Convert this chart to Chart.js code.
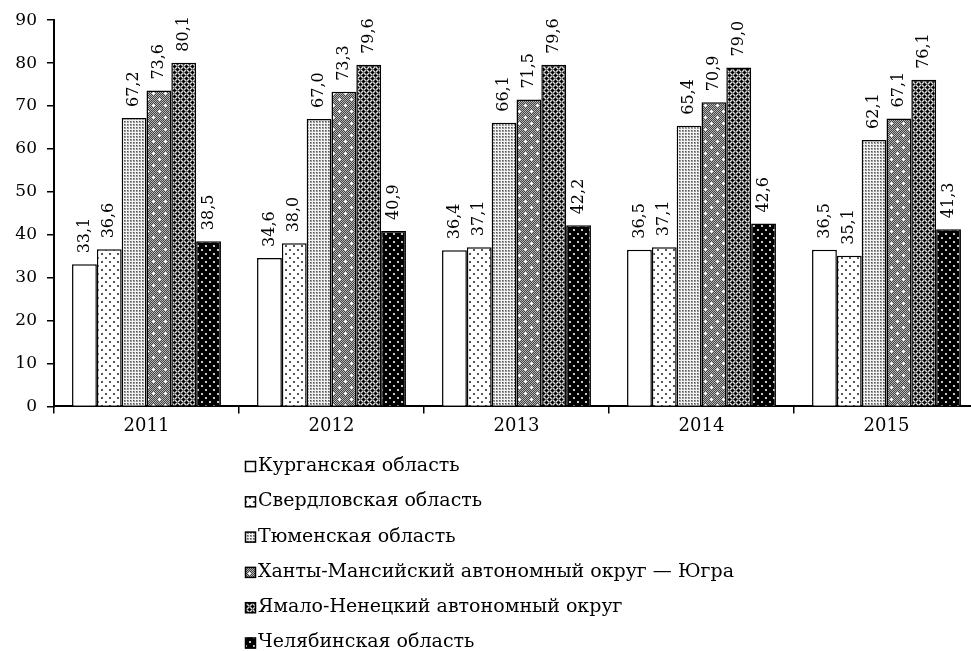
<!DOCTYPE html>
<html>
<head>
<meta charset="utf-8">
<script src="https://cdn.jsdelivr.net/npm/chart.js@4"></script>
<style>
  html, body { margin: 0; padding: 0; background: #fff; overflow: hidden; }
  #wrap { width: 971px; height: 651px; overflow: hidden; }
</style>
</head>
<body>
<div id="wrap"><canvas id="myChart" width="980" height="651"></canvas></div>
<script>
var years = ['2011', '2012', '2013', '2014', '2015'];
var regions = [
    'Курганская область',
    'Свердловская область',
    'Тюменская область',
    'Ханты-Мансийский автономный округ — Югра',
    'Ямало-Ненецкий автономный округ',
    'Челябинская область'
];
var kurgan = [33.1, 34.6, 36.4, 36.5, 36.5];
var sverdlovsk = [36.6, 38.0, 37.1, 37.1, 35.1];
var tyumen = [67.2, 67.0, 66.1, 65.4, 62.1];
var khmao = [73.6, 73.3, 71.5, 70.9, 67.1];
var yanao = [80.1, 79.6, 79.6, 79.0, 76.1];
var chelyabinsk = [38.5, 40.9, 42.2, 42.6, 41.3];
var yTicks = [0, 10, 20, 30, 40, 50, 60, 70, 80, 90];

var FONT = '"DejaVu Serif", "Liberation Serif", serif';

// little tiles for the hatched fills
function makePattern(size, draw) {
    var c = document.createElement('canvas');
    c.width = size; c.height = size;
    var g = c.getContext('2d');
    draw(g);
    return g.createPattern(c, 'repeat');
}
function px(g, col, pts) {
    g.fillStyle = col;
    for (var i = 0; i < pts.length; i += 2) g.fillRect(pts[i], pts[i + 1], 1, 1);
}

var fills = [
    '#ffffff',
    makePattern(8, function (g) {
        g.fillStyle = '#fff'; g.fillRect(0, 0, 8, 8);
        g.fillStyle = '#555';
        g.fillRect(1, 1, 2, 2); g.fillRect(5, 5, 2, 2);
    }),
    makePattern(3, function (g) {
        g.fillStyle = '#f2f2f2'; g.fillRect(0, 0, 3, 3);
        g.fillStyle = '#999';
        g.fillRect(1, 1, 2, 2);
        px(g, '#555', [1, 1]);
    }),
    makePattern(12, function (g) {
        for (var i = 0; i < 12; i++) {
            for (var j = 0; j < 12; j++) {
                g.fillStyle = (i + j) % 2 ? '#444' : '#b5b5b5';
                g.fillRect(i, j, 1, 1);
            }
        }
        g.fillStyle = '#fff';
        g.fillRect(2, 3, 3, 1); g.fillRect(3, 2, 1, 3);
        g.fillRect(8, 9, 3, 1); g.fillRect(9, 8, 1, 3);
    }),
    makePattern(6, function (g) {
        g.fillStyle = '#6e6e6e'; g.fillRect(0, 0, 6, 6);
        px(g, '#000', [3, 3, 2, 3, 4, 3, 3, 2, 3, 4, 0, 0, 1, 0, 5, 0, 0, 1, 0, 5]);
        px(g, '#ddd', [1, 2, 2, 1, 4, 1, 5, 2, 1, 4, 2, 5, 4, 5, 5, 4]);
    }),
    makePattern(8, function (g) {
        g.fillStyle = '#000'; g.fillRect(0, 0, 8, 8);
        g.fillStyle = '#c8c8c8';
        g.fillRect(1, 1, 2, 2); g.fillRect(5, 5, 2, 2);
    })
];

var series = [kurgan, sverdlovsk, tyumen, khmao, yanao, chelyabinsk];

// value labels, rotated, above each bar
var barLabels = {
    id: 'barLabels',
    afterDatasetsDraw: function (chart) {
        var ctx = chart.ctx;
        ctx.save();
        ctx.font = '16px ' + FONT;
        ctx.fillStyle = '#000';
        ctx.textAlign = 'left';
        ctx.textBaseline = 'middle';
        chart.data.datasets.forEach(function (ds, i) {
            chart.getDatasetMeta(i).data.forEach(function (bar, j) {
                ctx.save();
                ctx.translate(bar.x, bar.y - 11);
                ctx.rotate(-Math.PI / 2);
                ctx.fillText(ds.data[j].toFixed(1).replace('.', ','), 0, 0);
                ctx.restore();
            });
        });
        ctx.restore();
    }
};

// vertical legend under the chart
var listLegend = {
    id: 'listLegend',
    afterDraw: function (chart) {
        var ctx = chart.ctx;
        ctx.save();
        ctx.font = '19px ' + FONT;
        ctx.textBaseline = 'middle';
        ctx.textAlign = 'left';
        chart.data.datasets.forEach(function (ds, i) {
            var y = 466 + i * 35.3;
            ctx.fillStyle = ds.backgroundColor;
            ctx.fillRect(245, y - 5, 11, 11);
            ctx.strokeStyle = '#000';
            ctx.lineWidth = 1.5;
            ctx.strokeRect(245.5, y - 4.5, 10, 10);
            ctx.fillStyle = '#000';
            ctx.fillText(ds.label, 258, y);
        });
        ctx.restore();
    }
};

var ctx = document.querySelector('#myChart').getContext('2d');
var myChart = new Chart(ctx, {
    type: 'bar',
    data: {
        labels: years,
        datasets: series.map(function (vals, i) {
            return {
                label: regions[i],
                data: vals,
                backgroundColor: fills[i],
                borderColor: '#000',
                borderWidth: 1.5,
                barPercentage: 1,
                categoryPercentage: 0.805
            };
        })
    },
    options: {
        responsive: false,
        animation: false,
        layout: { padding: { top: 20, right: 1, bottom: 212, left: 0 } },
        plugins: {
            legend: { display: false },
            tooltip: { enabled: false }
        },
        scales: {
            x: {
                offset: true,
                grid: { offset: true, drawOnChartArea: false, drawTicks: true, tickLength: 7, color: '#000', lineWidth: 1.5 },
                border: { color: '#000', width: 2 },
                ticks: { color: '#000', font: { family: FONT, size: 18 }, padding: 2 }
            },
            y: {
                min: 0,
                max: 90,
                afterBuildTicks: function (scale) {
                    scale.ticks = yTicks.map(function (v) { return { value: v }; });
                },
                afterFit: function (scale) { scale.width = 54; },
                grid: { drawOnChartArea: false, drawTicks: true, tickLength: 7, color: '#000', lineWidth: 1.5 },
                border: { color: '#000', width: 2 },
                ticks: { color: '#000', font: { family: FONT, size: 17 }, padding: 10 }
            }
        }
    },
    plugins: [barLabels, listLegend]
});
</script>
</body>
</html>
